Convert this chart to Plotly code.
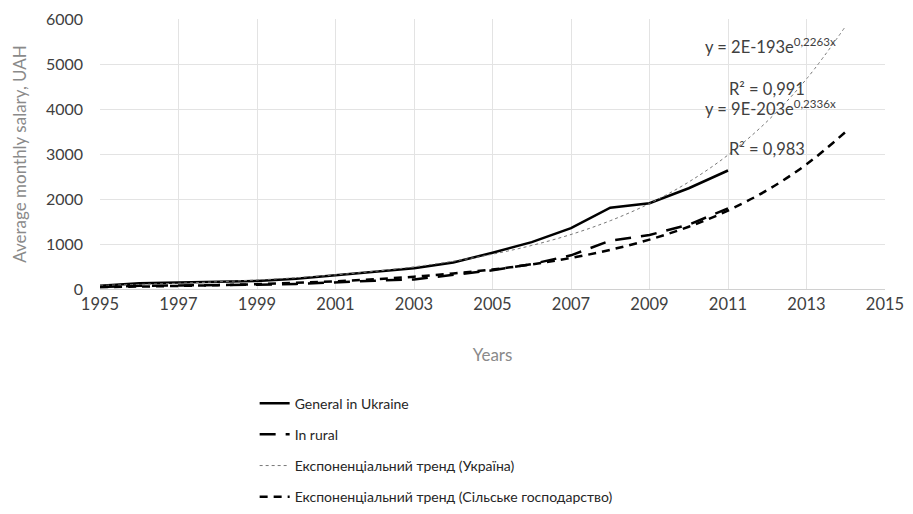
import numpy as np
import plotly.graph_objects as go

years = [1995, 1996, 1997, 1998, 1999, 2000, 2001, 2002, 2003, 2004, 2005,
         2006, 2007, 2008, 2009, 2010, 2011]
general_ukraine = [73, 126, 143, 153, 178, 230, 311, 376, 462, 590, 806,
                   1041, 1351, 1806, 1906, 2239, 2633]
in_rural = [47, 72, 80, 85, 96, 113, 153, 184, 213, 314, 415,
            553, 749, 1075, 1200, 1430, 1790]
trend_years = list(range(1995, 2015))
x_ticks = list(range(1995, 2016, 2))

eq_ukraine = "y = 2E-193e<sup>0,2263x</sup>"
r2_ukraine = "R² = 0,991"
eq_rural = "y = 9E-203e<sup>0,2336x</sup>"
r2_rural = "R² = 0,983"


def exp_trend(xs, ys, xt):
    b, a = np.polyfit(np.array(xs, float) - 2000, np.log(ys), 1)
    return list(np.exp(a + b * (np.array(xt, float) - 2000)))


trend_ukraine = exp_trend(years, general_ukraine, trend_years)
trend_rural = exp_trend(years, in_rural, trend_years)

font = "Lato, 'Open Sans', sans-serif"
grey = "#8a8a8a"

fig = go.Figure()
fig.add_trace(go.Scatter(x=years, y=general_ukraine, mode="lines",
                         name="General in Ukraine", legendgroup="a",
                         line=dict(color="black", width=2.5)))
fig.add_trace(go.Scatter(x=years, y=in_rural, mode="lines",
                         name="In rural", legendgroup="b",
                         line=dict(color="black", width=2.5, dash="16px,10px")))
fig.add_trace(go.Scatter(x=trend_years, y=trend_ukraine, mode="lines",
                         name="Експоненціальний тренд (Україна)", legendgroup="c",
                         line=dict(color="#777777", width=1, dash="dot", shape="spline")))
fig.add_trace(go.Scatter(x=trend_years, y=trend_rural, mode="lines",
                         name="Експоненціальний тренд (Сільське господарство)", legendgroup="d",
                         line=dict(color="black", width=2.5, dash="8px,6px", shape="spline")))

ann_font = dict(family=font, size=16.5, color="#404040")
for txt, px, py in [(eq_ukraine, 703, 45), (r2_ukraine, 727, 88),
                    (eq_rural, 703, 107), (r2_rural, 727, 148)]:
    fig.add_annotation(x=(px - 100) / 785, y=(289 - py) / 271, xref="paper", yref="paper",
                       text=txt, showarrow=False, font=ann_font,
                       xanchor="left", yanchor="middle")

fig.update_layout(
    width=913, height=514,
    margin=dict(l=92, r=36, t=11, b=232),
    paper_bgcolor="white", plot_bgcolor="white",
    font=dict(family=font, size=14, color="#595959"),
    showlegend=True,
    legend=dict(x=0.197, y=-0.36, xanchor="left", yanchor="top",
                orientation="v", tracegroupgap=10,
                font=dict(family=font, size=14, color="#262626"),
                bgcolor="rgba(0,0,0,0)"),
    xaxis=dict(range=[1995, 2015], tickvals=x_ticks, ticktext=[str(v) for v in x_ticks],
               automargin=False,
               showgrid=True, gridcolor="#e3e3e3", gridwidth=1,
               zeroline=False, showline=True, linecolor="#d0d0d0", linewidth=1,
               ticks="", tickfont=dict(size=16.5, color="#404040"),
               title=dict(text="Years", font=dict(size=17, color=grey), standoff=36)),
    yaxis=dict(range=[0, 6000], dtick=1000, tickformat="d",
               automargin=False, ticklabelstandoff=16,
               showgrid=True, gridcolor="#e3e3e3", gridwidth=1,
               zeroline=False, showline=False, ticks="",
               tickfont=dict(size=16, color="#404040"),
               title=dict(text="Average monthly salary, UAH", font=dict(size=17, color=grey), standoff=14)),
)

fig.write_html("out.html")
